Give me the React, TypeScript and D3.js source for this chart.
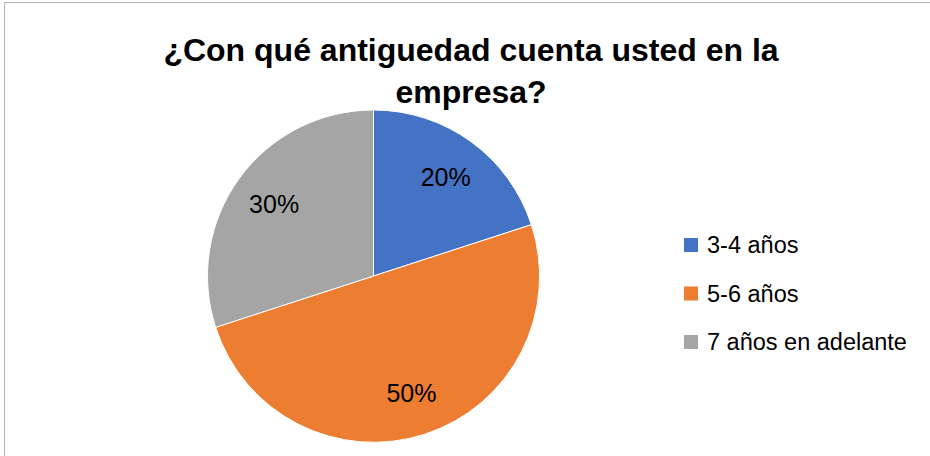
import React from "react";
import * as d3 from "d3";

const categories = ["3-4 años", "5-6 años", "7 años en adelante"];
const values = [20, 50, 30];
const colors = ["#4472C4", "#ED7D31", "#A5A5A5"];
const titleLines = ["¿Con qué antiguedad cuenta usted en la", "empresa?"];

const W = 930;
const H = 456;
const FONT = "'Liberation Sans', Arial, sans-serif";

export default function App() {
  const cx = 373.5;
  const cy = 276;
  const r = 166;
  const total = d3.sum(values);
  const pie = d3.pie<number>().sort(null).value((d) => d);
  const arcs = pie(values);
  const arc = d3.arc<d3.PieArcDatum<number>>().innerRadius(0).outerRadius(r);
  const labelArc = d3
    .arc<d3.PieArcDatum<number>>()
    .innerRadius(r * 0.74)
    .outerRadius(r * 0.74);

  const legendY = d3
    .scalePoint<string>()
    .domain(categories)
    .range([245, 342]);

  return (
    <svg
      width={W}
      height={H}
      style={{ position: "absolute", left: 0, top: 0, background: "#fff" }}
    >
      <rect x={0} y={0} width={W} height={H} fill="#fff" />
      <rect
        x={4.5}
        y={2.5}
        width={W + 20}
        height={H + 20}
        fill="none"
        stroke="#B4B4B4"
        strokeWidth={1}
      />
      <g fontFamily={FONT} fontWeight="bold" fontSize={32} fill="#000" textAnchor="middle">
        {titleLines.map((t, i) => (
          <text key={i} x={471} y={61 + i * 42}>
            {t}
          </text>
        ))}
      </g>
      <g transform={`translate(${cx},${cy})`}>
        {arcs.map((a, i) => (
          <path key={i} d={arc(a) || ""} fill={colors[i]} stroke="#fff" strokeWidth={1} />
        ))}
        {arcs.map((a, i) => {
          const [x, y] = labelArc.centroid(a);
          return (
            <text
              key={"l" + i}
              x={x}
              y={y}
              dy="0.36em"
              textAnchor="middle"
              fontFamily={FONT}
              fontSize={25}
              fill="#000"
            >
              {Math.round((values[i] / total) * 100)}%
            </text>
          );
        })}
      </g>
      <g fontFamily={FONT} fontSize={23.5} fill="#000">
        {categories.map((c, i) => {
          const y = legendY(c) as number;
          return (
            <g key={c}>
              <rect x={684} y={y - 7} width={14} height={14} fill={colors[i]} />
              <text x={707} y={y} dy="0.35em">
                {c}
              </text>
            </g>
          );
        })}
      </g>
    </svg>
  );
}
